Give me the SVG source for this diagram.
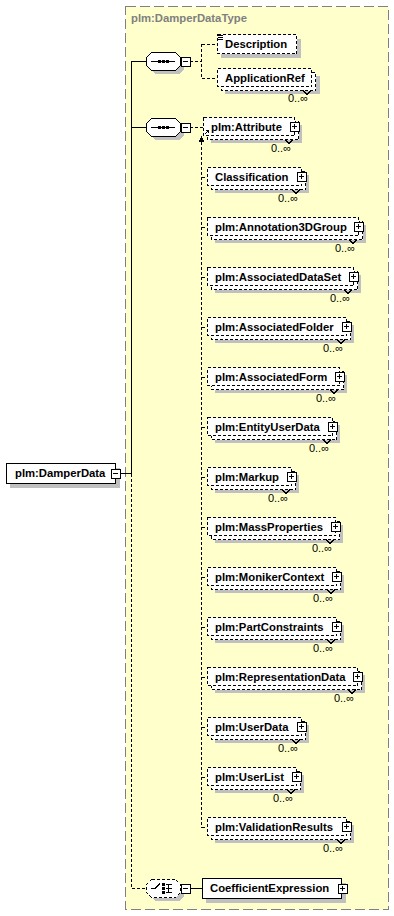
<svg xmlns="http://www.w3.org/2000/svg" width="394" height="916" viewBox="0 0 394 916">
<style>
.t{font-family:"Liberation Sans",Arial,sans-serif;font-size:11.3px;font-weight:bold;fill:#000}
.o{font-family:"Liberation Sans",Arial,sans-serif;font-size:11px;fill:#000}
.tt{font-family:"Liberation Sans",Arial,sans-serif;font-size:11.3px;font-weight:bold;fill:#808080}
.box{fill:#fff;stroke:#000;stroke-width:1}
.db{fill:#fff;stroke:#000;stroke-width:1;stroke-dasharray:3,2}
.sh{fill:#c0c0c0}
.ln{fill:none;stroke:#000;stroke-width:1}
.dl{fill:none;stroke:#000;stroke-width:1;stroke-dasharray:3,2}
.blk{fill:#000}
rect,line,path,polygon{shape-rendering:crispEdges}
</style>
<defs>
<g id="plus"><rect class="box" x="-4.5" y="-4.5" width="9" height="9"/><path class="ln" d="M-2.5 0H2.5M0 -2.5V2.5"/></g>
<g id="minus"><rect class="box" x="-4.5" y="-4.5" width="9" height="9"/><path class="ln" d="M-2.5 0H2.5"/></g>
<polygon id="oct" points="5,-9 29,-9 34,-4 34,4 29,9 5,9 0,4 0,-4"/>
</defs>

<g id="type-box">
<rect x="125.5" y="6.5" width="263" height="903" fill="#ffffcc" stroke="#808080" stroke-dasharray="10,4"/>
<text class="tt" x="131" y="22">plm:DamperDataType</text>
</g>

<g id="connectors">
<path class="ln" d="M120 473.5H131.5M131.5 61V473.5M131.5 61.5H146M131.5 127.5H146"/>
<path class="dl" d="M131.5 473.5V888.5H146"/>
<path class="dl" d="M190 61.5H201.5M201.5 44V78M201.5 44.5H217M201.5 78.5H217"/>
<path class="dl" d="M190 127.5H203"/>
<path class="dl" d="M201.5 142V827.5"/>
<path class="dl" d="M201.5 177.5H207M201.5 227.5H207M201.5 277.5H207M201.5 327.5H207M201.5 377.5H207M201.5 427.5H207M201.5 477.5H207M201.5 527.5H207M201.5 577.5H207M201.5 627.5H207M201.5 677.5H207M201.5 727.5H207M201.5 777.5H207M201.5 827.5H207"/>
<polygon class="blk" points="201.5,136 198.5,142 204.5,142"/>
<path class="ln" d="M190 888.5H202"/>
</g>

<g id="n-damperdata">
<rect class="sh" x="10" y="468" width="110" height="20"/>
<rect class="box" x="6.5" y="463.5" width="109" height="20"/>
<text class="t" x="15" y="477">plm:DamperData</text>
<use href="#minus" x="115.5" y="473.5"/>
</g>

<g id="n-sequence1">
<use href="#oct" x="150" y="65" class="sh"/>
<use href="#oct" x="146.5" y="61.5" fill="#fff" stroke="#000"/>
<path class="ln" d="M151 61.5H175"/>
<rect class="blk" x="158" y="60" width="3" height="3"/><rect class="blk" x="162" y="60" width="3" height="3"/><rect class="blk" x="166" y="60" width="3" height="3"/>
<use href="#minus" x="185.5" y="61.5"/>
</g>

<g id="n-description">
<rect class="sh" x="221" y="39" width="80" height="19"/>
<rect class="db" x="217.5" y="34.5" width="79" height="19"/>
<path class="ln" d="M218 35.5H223M218 37.5H223M218 39.5H223"/>
<text class="t" x="225" y="48">Description</text>
</g>

<g id="n-applicationref">
<rect class="sh" x="225" y="76" width="95" height="18"/>
<rect class="db" x="221.5" y="72.5" width="94" height="18"/>
<rect class="db" x="217.5" y="68.5" width="94" height="18"/>
<text class="t" x="225" y="82">ApplicationRef</text>
<path class="ln" d="M303 90.5L307 94.5L311 90.5"/>
<text class="o" x="308" y="102" text-anchor="end">0..∞</text>
</g>

<g id="n-sequence2">
<use href="#oct" x="150" y="131" class="sh"/>
<use href="#oct" x="146.5" y="127.5" fill="#fff" stroke="#000"/>
<path class="ln" d="M151 127.5H175"/>
<rect class="blk" x="158" y="126" width="3" height="3"/><rect class="blk" x="162" y="126" width="3" height="3"/><rect class="blk" x="166" y="126" width="3" height="3"/>
<use href="#minus" x="185.5" y="127.5"/>
</g>

<g id="n-attribute">
<rect class="sh" x="211" y="125" width="91" height="18"/>
<rect class="db" x="207.5" y="121.5" width="91" height="18"/>
<rect class="db" x="203.5" y="117.5" width="91" height="18"/>
<path class="ln" d="M204.5 134.5L208 131"/><polygon class="blk" points="209.5,129.5 205.5,130.5 208.5,133.5"/>
<text class="t" x="211" y="131">plm:Attribute</text>
<use href="#plus" x="294.5" y="126.5"/>
<path class="ln" d="M285 139.5L289 143.5L293 139.5"/>
<text class="o" x="291" y="152" text-anchor="end">0..∞</text>
</g>

<g id="n-classification">
<rect class="sh" x="215" y="175" width="94" height="18"/>
<rect class="db" x="211.5" y="171.5" width="94" height="18"/>
<rect class="db" x="207.5" y="167.5" width="94" height="18"/>
<text class="t" x="215" y="181">Classification</text>
<use href="#plus" x="301.5" y="176.5"/>
<path class="ln" d="M292 189.5L296 193.5L300 189.5"/>
<text class="o" x="298" y="202" text-anchor="end">0..∞</text>
</g>

<g id="n-annotation3dgroup">
<rect class="sh" x="215" y="225" width="151" height="18"/>
<rect class="db" x="211.5" y="221.5" width="151" height="18"/>
<rect class="db" x="207.5" y="217.5" width="151" height="18"/>
<text class="t" x="215" y="231">plm:Annotation3DGroup</text>
<use href="#plus" x="358.5" y="226.5"/>
<path class="ln" d="M349 239.5L353 243.5L357 239.5"/>
<text class="o" x="355" y="252" text-anchor="end">0..∞</text>
</g>

<g id="n-associateddataset">
<rect class="sh" x="215" y="275" width="146" height="18"/>
<rect class="db" x="211.5" y="271.5" width="146" height="18"/>
<rect class="db" x="207.5" y="267.5" width="146" height="18"/>
<text class="t" x="215" y="281">plm:AssociatedDataSet</text>
<use href="#plus" x="353.5" y="276.5"/>
<path class="ln" d="M344 289.5L348 293.5L352 289.5"/>
<text class="o" x="350" y="302" text-anchor="end">0..∞</text>
</g>

<g id="n-associatedfolder">
<rect class="sh" x="215" y="325" width="139" height="18"/>
<rect class="db" x="211.5" y="321.5" width="139" height="18"/>
<rect class="db" x="207.5" y="317.5" width="139" height="18"/>
<text class="t" x="215" y="331">plm:AssociatedFolder</text>
<use href="#plus" x="346.5" y="326.5"/>
<path class="ln" d="M337 339.5L341 343.5L345 339.5"/>
<text class="o" x="343" y="352" text-anchor="end">0..∞</text>
</g>

<g id="n-associatedform">
<rect class="sh" x="215" y="375" width="132" height="18"/>
<rect class="db" x="211.5" y="371.5" width="132" height="18"/>
<rect class="db" x="207.5" y="367.5" width="132" height="18"/>
<text class="t" x="215" y="381">plm:AssociatedForm</text>
<use href="#plus" x="339.5" y="376.5"/>
<path class="ln" d="M330 389.5L334 393.5L338 389.5"/>
<text class="o" x="336" y="402" text-anchor="end">0..∞</text>
</g>

<g id="n-entityuserdata">
<rect class="sh" x="215" y="425" width="125" height="18"/>
<rect class="db" x="211.5" y="421.5" width="125" height="18"/>
<rect class="db" x="207.5" y="417.5" width="125" height="18"/>
<text class="t" x="215" y="431">plm:EntityUserData</text>
<use href="#plus" x="332.5" y="426.5"/>
<path class="ln" d="M323 439.5L327 443.5L331 439.5"/>
<text class="o" x="329" y="452" text-anchor="end">0..∞</text>
</g>

<g id="n-markup">
<rect class="sh" x="215" y="475" width="84" height="18"/>
<rect class="db" x="211.5" y="471.5" width="84" height="18"/>
<rect class="db" x="207.5" y="467.5" width="84" height="18"/>
<text class="t" x="215" y="481">plm:Markup</text>
<use href="#plus" x="291.5" y="476.5"/>
<path class="ln" d="M282 489.5L286 493.5L290 489.5"/>
<text class="o" x="288" y="502" text-anchor="end">0..∞</text>
</g>

<g id="n-massproperties">
<rect class="sh" x="215" y="525" width="128" height="18"/>
<rect class="db" x="211.5" y="521.5" width="128" height="18"/>
<rect class="db" x="207.5" y="517.5" width="128" height="18"/>
<text class="t" x="215" y="531">plm:MassProperties</text>
<use href="#plus" x="335.5" y="526.5"/>
<path class="ln" d="M326 539.5L330 543.5L334 539.5"/>
<text class="o" x="332" y="552" text-anchor="end">0..∞</text>
</g>

<g id="n-monikercontext">
<rect class="sh" x="215" y="575" width="129" height="18"/>
<rect class="db" x="211.5" y="571.5" width="129" height="18"/>
<rect class="db" x="207.5" y="567.5" width="129" height="18"/>
<text class="t" x="215" y="581">plm:MonikerContext</text>
<use href="#plus" x="336.5" y="576.5"/>
<path class="ln" d="M327 589.5L331 593.5L335 589.5"/>
<text class="o" x="333" y="602" text-anchor="end">0..∞</text>
</g>

<g id="n-partconstraints">
<rect class="sh" x="215" y="625" width="129" height="18"/>
<rect class="db" x="211.5" y="621.5" width="129" height="18"/>
<rect class="db" x="207.5" y="617.5" width="129" height="18"/>
<text class="t" x="215" y="631">plm:PartConstraints</text>
<use href="#plus" x="336.5" y="626.5"/>
<path class="ln" d="M327 639.5L331 643.5L335 639.5"/>
<text class="o" x="333" y="652" text-anchor="end">0..∞</text>
</g>

<g id="n-representationdata">
<rect class="sh" x="215" y="675" width="150" height="18"/>
<rect class="db" x="211.5" y="671.5" width="150" height="18"/>
<rect class="db" x="207.5" y="667.5" width="150" height="18"/>
<text class="t" x="215" y="681">plm:RepresentationData</text>
<use href="#plus" x="357.5" y="676.5"/>
<path class="ln" d="M348 689.5L352 693.5L356 689.5"/>
<text class="o" x="354" y="702" text-anchor="end">0..∞</text>
</g>

<g id="n-userdata">
<rect class="sh" x="215" y="725" width="94" height="18"/>
<rect class="db" x="211.5" y="721.5" width="94" height="18"/>
<rect class="db" x="207.5" y="717.5" width="94" height="18"/>
<text class="t" x="215" y="731">plm:UserData</text>
<use href="#plus" x="301.5" y="726.5"/>
<path class="ln" d="M292 739.5L296 743.5L300 739.5"/>
<text class="o" x="298" y="752" text-anchor="end">0..∞</text>
</g>

<g id="n-userlist">
<rect class="sh" x="215" y="775" width="89" height="18"/>
<rect class="db" x="211.5" y="771.5" width="89" height="18"/>
<rect class="db" x="207.5" y="767.5" width="89" height="18"/>
<text class="t" x="215" y="781">plm:UserList</text>
<use href="#plus" x="296.5" y="776.5"/>
<path class="ln" d="M287 789.5L291 793.5L295 789.5"/>
<text class="o" x="293" y="802" text-anchor="end">0..∞</text>
</g>

<g id="n-validationresults">
<rect class="sh" x="215" y="825" width="139" height="18"/>
<rect class="db" x="211.5" y="821.5" width="139" height="18"/>
<rect class="db" x="207.5" y="817.5" width="139" height="18"/>
<text class="t" x="215" y="831">plm:ValidationResults</text>
<use href="#plus" x="346.5" y="826.5"/>
<path class="ln" d="M337 839.5L341 843.5L345 839.5"/>
<text class="o" x="343" y="852" text-anchor="end">0..∞</text>
</g>

<g id="n-choice">
<use href="#oct" x="150" y="892" class="sh"/>
<use href="#oct" x="146.5" y="888.5" fill="#fff" stroke="#000" stroke-dasharray="3,2"/>
<path class="ln" d="M151 888.5H155M155 888.5L160 883.5M168.5 884V893M166 884.5H172M166 888.5H172M166 892.5H172"/>
<rect class="blk" x="162" y="883" width="3" height="3"/><rect class="blk" x="162" y="887" width="3" height="3"/><rect class="blk" x="162" y="891" width="3" height="3"/>
<use href="#minus" x="185.5" y="888.5"/>
</g>

<g id="n-coefficientexpression">
<rect class="sh" x="206" y="883" width="140" height="20"/>
<rect class="box" x="202.5" y="878.5" width="139" height="20"/>
<text class="t" x="210" y="892">CoefficientExpression</text>
<use href="#plus" x="342.5" y="888.5"/>
</g>
</svg>
